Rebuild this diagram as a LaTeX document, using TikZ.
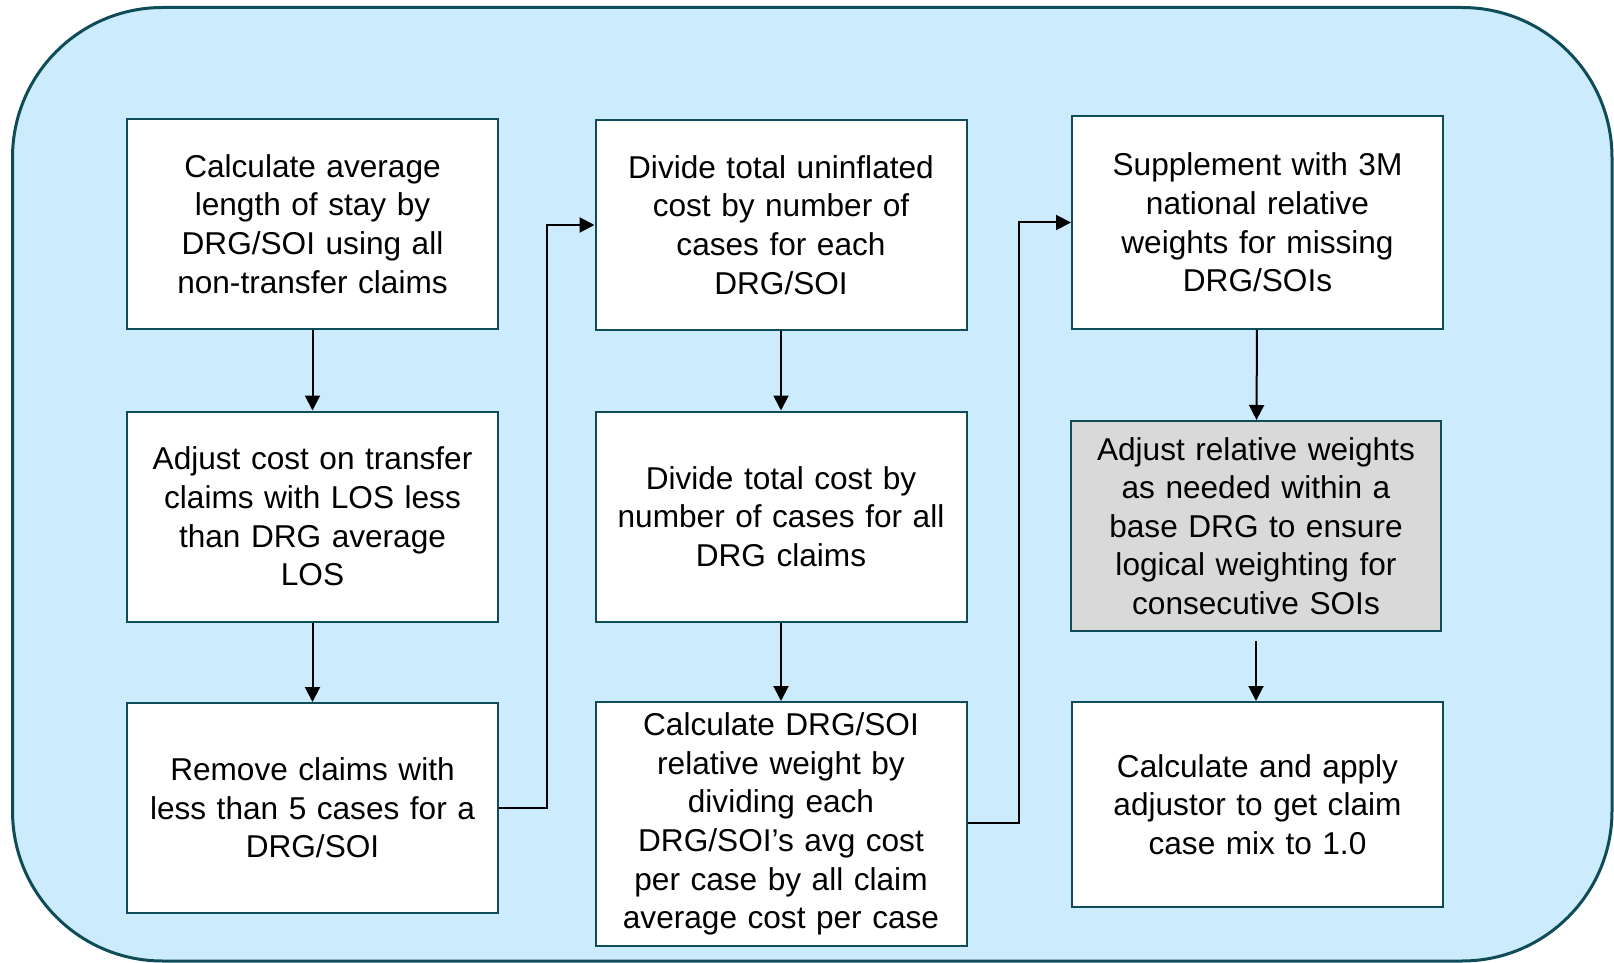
\documentclass[tikz,border=0pt]{standalone}
\usepackage{fontspec}
\setmainfont{Liberation Sans}
\usetikzlibrary{arrows.meta}
\definecolor{panelblue}{HTML}{CCEBFD}
\definecolor{panelline}{HTML}{0F4C5A}
\definecolor{boxgrey}{HTML}{D9D9D9}
\tikzset{
  stepbox/.style={draw=panelline,line width=1pt,fill=white,align=center,
    text width=175pt,inner xsep=5pt,minimum width=185.5pt,minimum height=105pt,
    font=\fontsize{15.8}{19.3}\selectfont},
  flow/.style={line width=1pt,-{Triangle[length=7.5pt,width=7.5pt]}}
}
\begin{document}
\begin{tikzpicture}[x=0.5pt,y=-0.5pt]
  \useasboundingbox (0,0) rectangle (1614,963);
  \draw[fill=panelblue,draw=panelline,line width=1.5pt,rounded corners=75pt] (12.5,7.5) rectangle (1612,961);
  \node[stepbox] (c1) at (312.5,224) {Calculate average\\length of stay by\\DRG/SOI using all\\non-transfer claims};
  \node[stepbox] (a1) at (312.5,516.5) {Adjust cost on transfer\\claims with LOS less\\than DRG average\\LOS};
  \node[stepbox] (r1) at (312.5,808) {Remove claims with\\less than 5 cases for a\\DRG/SOI};
  \node[stepbox] (d1) at (781,225) {Divide total uninflated\\cost by number of\\cases for each\\DRG/SOI};
  \node[stepbox] (t1) at (781,516.5) {Divide total cost by\\number of cases for all\\DRG claims};
  \node[stepbox,minimum height=122pt] (w1) at (781,824) {Calculate DRG/SOI\\relative weight by\\dividing each\\DRG/SOI’s avg cost\\per case by all claim\\average cost per case};
  \node[stepbox,minimum height=106.5pt] (s1) at (1257.5,222.5) {Supplement with 3M\\national relative\\weights for missing\\DRG/SOIs};
  \node[stepbox,fill=boxgrey,minimum width=184pt] (g1) at (1256,526) {Adjust relative weights\\as needed within a\\base DRG to ensure\\logical weighting for\\consecutive SOIs};
  \node[stepbox,minimum height=102.5pt] (m1) at (1257.5,804.5) {Calculate and apply\\adjustor to get claim\\case mix to 1.0};
  \coordinate (j1) at (547,808);
  \coordinate (j2) at (1019,823);
  \draw[flow] (c1) -- (a1);
  \draw[flow] (a1) -- (r1);
  \draw[flow] (r1.east) -- (j1) |- (d1.west);
  \draw[flow] (d1) -- (t1);
  \draw[flow] (t1) -- (w1);
  \draw[flow] (w1.east |- j2) -- (j2) |- (s1.west);
  \draw[flow] (s1) -- (g1);
  \draw[flow,shorten <=4.5pt] (g1) -- (g1 |- m1.north);
\end{tikzpicture}
\end{document}
